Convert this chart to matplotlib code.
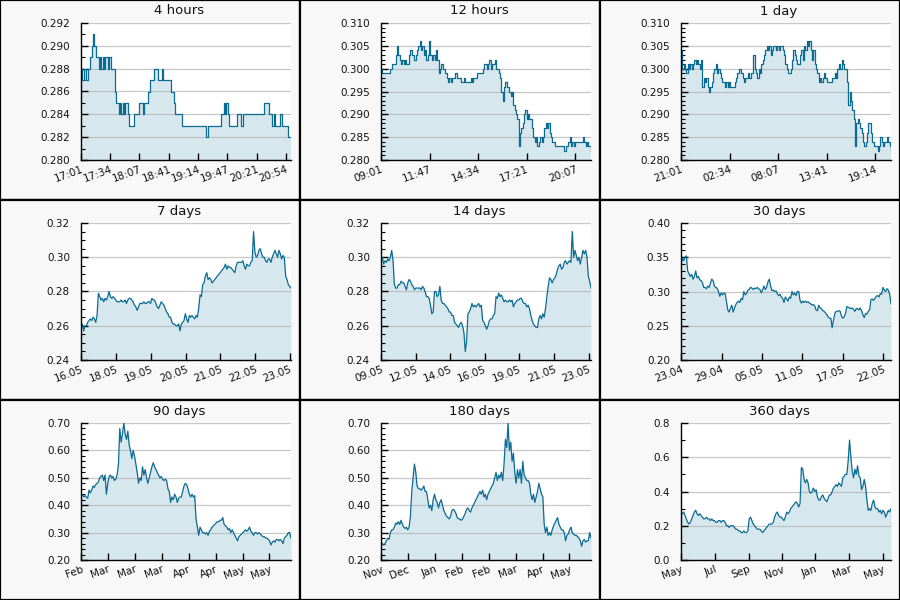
import numpy as np
import matplotlib
matplotlib.use("Agg")
import matplotlib.pyplot as plt
from matplotlib.patches import Rectangle
from matplotlib.ticker import MultipleLocator, AutoMinorLocator, FormatStrFormatter

# panel titles
titles = ["4 hours", "12 hours", "1 day", "7 days", "14 days", "30 days",
          "90 days", "180 days", "360 days"]

# price readings, evenly spaced over each window
prices_4h = [
    0.288, 0.287, 0.288, 0.288, 0.287, 0.288, 0.288, 0.289, 0.290, 0.291,
    0.290, 0.289, 0.289, 0.288, 0.289, 0.288, 0.289, 0.288, 0.289, 0.289,
    0.288, 0.289, 0.288, 0.288, 0.288, 0.286, 0.285, 0.285, 0.284, 0.285,
    0.284, 0.285, 0.284, 0.285, 0.285, 0.284, 0.283, 0.283, 0.283, 0.284,
    0.284, 0.284, 0.284, 0.285, 0.285, 0.285, 0.284, 0.285, 0.285, 0.285,
    0.286, 0.287, 0.287, 0.287, 0.288, 0.288, 0.288, 0.287, 0.287, 0.287,
    0.288, 0.287, 0.287, 0.287, 0.287, 0.287, 0.287, 0.286, 0.286, 0.285,
    0.284, 0.284, 0.284, 0.284, 0.284, 0.283, 0.283, 0.283, 0.283, 0.283,
    0.283, 0.283, 0.283, 0.283, 0.283, 0.283, 0.283, 0.283, 0.283, 0.283,
    0.283, 0.283, 0.283, 0.282, 0.283, 0.283, 0.283, 0.283, 0.283, 0.283,
    0.283, 0.283, 0.283, 0.283, 0.284, 0.284, 0.285, 0.284, 0.285, 0.284,
    0.283, 0.283, 0.283, 0.283, 0.283, 0.283, 0.284, 0.284, 0.284, 0.283,
    0.284, 0.284, 0.284, 0.284, 0.284, 0.284, 0.284, 0.284, 0.284, 0.284,
    0.284, 0.284, 0.284, 0.284, 0.284, 0.284, 0.285, 0.285, 0.285, 0.285,
    0.284, 0.284, 0.283, 0.284, 0.283, 0.283, 0.283, 0.283, 0.284, 0.283,
    0.283, 0.283, 0.283, 0.283, 0.282, 0.282, 0.282,
]
prices_12h = [
    0.300, 0.299, 0.299, 0.299, 0.299, 0.299, 0.299, 0.300, 0.301, 0.301,
    0.301, 0.303, 0.305, 0.303, 0.302, 0.301, 0.302, 0.301, 0.302, 0.301,
    0.301, 0.303, 0.304, 0.303, 0.303, 0.302, 0.303, 0.304, 0.305, 0.306,
    0.304, 0.305, 0.303, 0.304, 0.302, 0.303, 0.306, 0.303, 0.302, 0.303,
    0.302, 0.304, 0.302, 0.299, 0.300, 0.301, 0.300, 0.300, 0.299, 0.298,
    0.297, 0.298, 0.297, 0.298, 0.298, 0.299, 0.299, 0.298, 0.298, 0.298,
    0.297, 0.297, 0.298, 0.297, 0.297, 0.297, 0.297, 0.298, 0.297, 0.298,
    0.298, 0.298, 0.299, 0.299, 0.299, 0.299, 0.300, 0.301, 0.301, 0.300,
    0.301, 0.302, 0.300, 0.301, 0.301, 0.302, 0.300, 0.300, 0.299, 0.298,
    0.295, 0.293, 0.296, 0.297, 0.296, 0.296, 0.295, 0.294, 0.295, 0.292,
    0.291, 0.290, 0.289, 0.283, 0.286, 0.287, 0.288, 0.290, 0.291, 0.289,
    0.290, 0.289, 0.289, 0.287, 0.285, 0.284, 0.285, 0.283, 0.284, 0.285,
    0.284, 0.285, 0.287, 0.288, 0.287, 0.288, 0.286, 0.285, 0.284, 0.284,
    0.283, 0.283, 0.283, 0.283, 0.283, 0.283, 0.283, 0.282, 0.283, 0.283,
    0.284, 0.285, 0.283, 0.284, 0.283, 0.284, 0.284, 0.284, 0.284, 0.284,
    0.284, 0.285, 0.284, 0.283, 0.284, 0.283, 0.283, 0.282,
]
prices_1d = [
    0.304, 0.300, 0.301, 0.300, 0.299, 0.301, 0.300, 0.301, 0.300, 0.301,
    0.302, 0.301, 0.302, 0.301, 0.300, 0.302, 0.296, 0.298, 0.297, 0.298,
    0.296, 0.295, 0.296, 0.297, 0.299, 0.300, 0.301, 0.299, 0.300, 0.299,
    0.298, 0.297, 0.297, 0.296, 0.297, 0.296, 0.297, 0.296, 0.296, 0.296,
    0.297, 0.298, 0.299, 0.300, 0.300, 0.299, 0.298, 0.297, 0.298, 0.298,
    0.299, 0.298, 0.299, 0.299, 0.303, 0.300, 0.299, 0.298, 0.300, 0.299,
    0.301, 0.302, 0.303, 0.304, 0.305, 0.304, 0.305, 0.303, 0.304, 0.305,
    0.305, 0.304, 0.305, 0.304, 0.305, 0.305, 0.304, 0.303, 0.301, 0.300,
    0.299, 0.299, 0.300, 0.302, 0.304, 0.303, 0.302, 0.301, 0.301, 0.303,
    0.304, 0.302, 0.305, 0.304, 0.306, 0.305, 0.306, 0.304, 0.302, 0.304,
    0.301, 0.300, 0.299, 0.297, 0.298, 0.297, 0.298, 0.299, 0.298, 0.297,
    0.297, 0.297, 0.297, 0.298, 0.298, 0.299, 0.298, 0.300, 0.301, 0.300,
    0.302, 0.301, 0.300, 0.300, 0.297, 0.292, 0.295, 0.293, 0.291, 0.289,
    0.283, 0.288, 0.289, 0.288, 0.287, 0.286, 0.284, 0.283, 0.284, 0.286,
    0.288, 0.288, 0.286, 0.284, 0.283, 0.283, 0.283, 0.282, 0.283, 0.285,
    0.284, 0.283, 0.284, 0.284, 0.285, 0.284, 0.283, 0.282,
]
prices_7d = [
    0.259, 0.261, 0.257, 0.260, 0.260, 0.262, 0.263, 0.264, 0.263, 0.265,
    0.264, 0.262, 0.266, 0.279, 0.277, 0.275, 0.276, 0.274, 0.276, 0.275,
    0.277, 0.280, 0.277, 0.276, 0.277, 0.276, 0.275, 0.274, 0.274, 0.274,
    0.275, 0.274, 0.274, 0.275, 0.273, 0.275, 0.276, 0.276, 0.275, 0.274,
    0.272, 0.271, 0.269, 0.271, 0.273, 0.273, 0.273, 0.274, 0.273, 0.273,
    0.274, 0.274, 0.273, 0.276, 0.275, 0.275, 0.273, 0.271, 0.270, 0.272,
    0.274, 0.273, 0.272, 0.270, 0.268, 0.267, 0.265, 0.265, 0.262, 0.261,
    0.261, 0.260, 0.260, 0.261, 0.257, 0.261, 0.262, 0.263, 0.267, 0.264,
    0.262, 0.266, 0.265, 0.266, 0.265, 0.264, 0.266, 0.265, 0.270, 0.278,
    0.277, 0.284, 0.285, 0.289, 0.291, 0.287, 0.288, 0.287, 0.285, 0.286,
    0.287, 0.288, 0.289, 0.290, 0.291, 0.292, 0.293, 0.294, 0.296, 0.293,
    0.295, 0.294, 0.294, 0.293, 0.292, 0.291, 0.295, 0.297, 0.297, 0.297,
    0.297, 0.298, 0.295, 0.293, 0.296, 0.295, 0.295, 0.297, 0.298, 0.315,
    0.303, 0.300, 0.301, 0.304, 0.305, 0.302, 0.300, 0.300, 0.298, 0.297,
    0.299, 0.299, 0.297, 0.300, 0.302, 0.304, 0.302, 0.300, 0.304, 0.302,
    0.299, 0.301, 0.300, 0.289, 0.287, 0.284, 0.283, 0.282,
]
prices_14d = [
    0.297, 0.300, 0.296, 0.298, 0.297, 0.299, 0.298, 0.300, 0.304, 0.298,
    0.284, 0.282, 0.282, 0.284, 0.284, 0.286, 0.285, 0.285, 0.283, 0.281,
    0.285, 0.287, 0.286, 0.284, 0.283, 0.281, 0.282, 0.282, 0.282, 0.282,
    0.281, 0.283, 0.282, 0.280, 0.277, 0.277, 0.276, 0.272, 0.267, 0.268,
    0.280, 0.280, 0.277, 0.278, 0.283, 0.275, 0.273, 0.273, 0.272, 0.271,
    0.270, 0.268, 0.268, 0.266, 0.266, 0.262, 0.261, 0.260, 0.259, 0.261,
    0.262, 0.260, 0.256, 0.245, 0.251, 0.267, 0.268, 0.270, 0.273, 0.271,
    0.272, 0.271, 0.272, 0.273, 0.271, 0.272, 0.263, 0.262, 0.260, 0.258,
    0.260, 0.263, 0.264, 0.264, 0.266, 0.267, 0.277, 0.276, 0.279, 0.277,
    0.278, 0.276, 0.274, 0.275, 0.274, 0.274, 0.275, 0.274, 0.275, 0.271,
    0.273, 0.274, 0.275, 0.275, 0.276, 0.276, 0.274, 0.273, 0.273, 0.271,
    0.272, 0.270, 0.266, 0.263, 0.261, 0.260, 0.259, 0.259, 0.264, 0.266,
    0.264, 0.267, 0.265, 0.270, 0.277, 0.283, 0.288, 0.287, 0.285, 0.287,
    0.288, 0.290, 0.293, 0.295, 0.296, 0.293, 0.294, 0.297, 0.298, 0.296,
    0.297, 0.298, 0.297, 0.315, 0.300, 0.304, 0.301, 0.298, 0.300, 0.296,
    0.300, 0.304, 0.302, 0.304, 0.300, 0.289, 0.286, 0.282,
]
prices_30d = [
    0.340, 0.348, 0.345, 0.350, 0.352, 0.330, 0.326, 0.322, 0.325, 0.318,
    0.322, 0.330, 0.320, 0.322, 0.317, 0.316, 0.313, 0.306, 0.306, 0.304,
    0.308, 0.306, 0.312, 0.318, 0.316, 0.308, 0.306, 0.305, 0.300, 0.293,
    0.298, 0.295, 0.298, 0.297, 0.285, 0.273, 0.270, 0.276, 0.280, 0.270,
    0.276, 0.281, 0.284, 0.286, 0.284, 0.290, 0.288, 0.300, 0.295, 0.297,
    0.302, 0.303, 0.306, 0.305, 0.303, 0.305, 0.304, 0.306, 0.304, 0.303,
    0.298, 0.302, 0.308, 0.303, 0.306, 0.314, 0.318, 0.308, 0.301, 0.302,
    0.300, 0.301, 0.297, 0.294, 0.296, 0.292, 0.290, 0.284, 0.292, 0.289,
    0.286, 0.292, 0.290, 0.300, 0.295, 0.298, 0.294, 0.300, 0.300, 0.287,
    0.283, 0.286, 0.284, 0.286, 0.284, 0.285, 0.283, 0.282, 0.280, 0.281,
    0.279, 0.273, 0.272, 0.280, 0.276, 0.275, 0.272, 0.271, 0.269, 0.266,
    0.263, 0.261, 0.261, 0.247, 0.258, 0.268, 0.271, 0.271, 0.272, 0.271,
    0.264, 0.261, 0.263, 0.268, 0.278, 0.277, 0.276, 0.275, 0.276, 0.274,
    0.271, 0.275, 0.275, 0.273, 0.276, 0.272, 0.266, 0.262, 0.268, 0.267,
    0.271, 0.273, 0.288, 0.289, 0.287, 0.290, 0.293, 0.294, 0.292, 0.297,
    0.296, 0.306, 0.302, 0.300, 0.304, 0.302, 0.296, 0.282,
]
prices_90d = [
    0.43, 0.44, 0.43, 0.435, 0.43, 0.425, 0.455, 0.445, 0.455, 0.47,
    0.465, 0.475, 0.48, 0.485, 0.50, 0.505, 0.51, 0.49, 0.51, 0.44,
    0.48, 0.505, 0.51, 0.50, 0.505, 0.49, 0.495, 0.51, 0.55, 0.68,
    0.63, 0.66, 0.70, 0.66, 0.64, 0.67, 0.62, 0.60, 0.57, 0.60,
    0.58, 0.55, 0.52, 0.48, 0.50, 0.49, 0.54, 0.51, 0.53, 0.50,
    0.48, 0.50, 0.52, 0.54, 0.555, 0.54, 0.53, 0.52, 0.51, 0.50,
    0.505, 0.495, 0.49, 0.495, 0.49, 0.46, 0.45, 0.41, 0.43, 0.42,
    0.44, 0.43, 0.41, 0.425, 0.43, 0.43, 0.45, 0.47, 0.48, 0.475,
    0.46, 0.44, 0.43, 0.44, 0.43, 0.435, 0.35, 0.32, 0.29, 0.32,
    0.31, 0.30, 0.30, 0.295, 0.30, 0.29, 0.305, 0.31, 0.32, 0.325,
    0.33, 0.335, 0.34, 0.34, 0.345, 0.345, 0.355, 0.33, 0.325, 0.32,
    0.31, 0.315, 0.30, 0.31, 0.30, 0.29, 0.28, 0.27, 0.285, 0.29,
    0.295, 0.30, 0.305, 0.31, 0.305, 0.31, 0.32, 0.305, 0.30, 0.29,
    0.30, 0.30, 0.295, 0.30, 0.295, 0.29, 0.285, 0.285, 0.28, 0.28,
    0.275, 0.27, 0.255, 0.265, 0.27, 0.265, 0.275, 0.275, 0.27, 0.275,
    0.27, 0.26, 0.28, 0.285, 0.29, 0.30, 0.30, 0.28,
]
prices_180d = [
    0.27, 0.26, 0.255, 0.26, 0.27, 0.28, 0.275, 0.30, 0.31, 0.31,
    0.32, 0.335, 0.33, 0.34, 0.33, 0.345, 0.33, 0.32, 0.315, 0.32,
    0.31, 0.32, 0.36, 0.45, 0.50, 0.55, 0.52, 0.47, 0.46, 0.46,
    0.455, 0.46, 0.47, 0.45, 0.45, 0.42, 0.39, 0.40, 0.38, 0.42,
    0.44, 0.42, 0.41, 0.39, 0.41, 0.42, 0.40, 0.38, 0.37, 0.36,
    0.355, 0.35, 0.36, 0.38, 0.385, 0.38, 0.37, 0.355, 0.35, 0.35,
    0.345, 0.35, 0.36, 0.37, 0.385, 0.39, 0.38, 0.375, 0.39, 0.40,
    0.41, 0.42, 0.43, 0.44, 0.45, 0.44, 0.455, 0.43, 0.44, 0.42,
    0.44, 0.45, 0.46, 0.47, 0.48, 0.50, 0.52, 0.49, 0.51, 0.50,
    0.52, 0.49, 0.55, 0.64, 0.61, 0.70, 0.60, 0.63, 0.56, 0.59,
    0.52, 0.48, 0.53, 0.50, 0.53, 0.48, 0.56, 0.51, 0.50, 0.49,
    0.49, 0.48, 0.44, 0.42, 0.44, 0.41, 0.43, 0.45, 0.48, 0.46,
    0.44, 0.43, 0.33, 0.30, 0.32, 0.29, 0.30, 0.29, 0.31, 0.325,
    0.335, 0.345, 0.355, 0.33, 0.32, 0.31, 0.31, 0.30, 0.27, 0.29,
    0.295, 0.31, 0.32, 0.30, 0.295, 0.29, 0.29, 0.285, 0.28, 0.27,
    0.25, 0.27, 0.275, 0.265, 0.27, 0.27, 0.30, 0.28,
]
prices_360d = [
    0.28, 0.27, 0.28, 0.26, 0.24, 0.22, 0.21, 0.22, 0.24, 0.26,
    0.28, 0.29, 0.27, 0.26, 0.27, 0.26, 0.25, 0.24, 0.24, 0.25,
    0.24, 0.24, 0.23, 0.24, 0.23, 0.23, 0.22, 0.22, 0.23, 0.23,
    0.22, 0.23, 0.23, 0.22, 0.20, 0.20, 0.19, 0.20, 0.20, 0.20,
    0.19, 0.18, 0.18, 0.17, 0.17, 0.16, 0.16, 0.17, 0.16, 0.16,
    0.17, 0.24, 0.25, 0.23, 0.21, 0.20, 0.19, 0.18, 0.18, 0.18,
    0.17, 0.16, 0.17, 0.18, 0.19, 0.20, 0.21, 0.21, 0.21, 0.22,
    0.25, 0.27, 0.28, 0.26, 0.25, 0.25, 0.24, 0.23, 0.25, 0.28,
    0.27, 0.28, 0.30, 0.31, 0.32, 0.33, 0.34, 0.33, 0.31, 0.33,
    0.54, 0.53, 0.47, 0.45, 0.47, 0.45, 0.40, 0.39, 0.40, 0.42,
    0.40, 0.41, 0.37, 0.35, 0.35, 0.37, 0.38, 0.36, 0.35, 0.34,
    0.36, 0.38, 0.38, 0.40, 0.42, 0.43, 0.44, 0.43, 0.45, 0.44,
    0.43, 0.48, 0.49, 0.50, 0.50, 0.58, 0.70, 0.60, 0.52, 0.48,
    0.53, 0.50, 0.55, 0.49, 0.48, 0.41, 0.43, 0.47, 0.43, 0.35,
    0.29, 0.30, 0.29, 0.33, 0.35, 0.31, 0.30, 0.30, 0.28, 0.29,
    0.27, 0.29, 0.28, 0.25, 0.27, 0.29, 0.28, 0.30,
]

series = [prices_4h, prices_12h, prices_1d, prices_7d, prices_14d,
          prices_30d, prices_90d, prices_180d, prices_360d]

# window lengths (minutes, minutes, hours, then days)
spans = [237, 717, 24, 6.0, 14, 30, 90, 180, 360]

tick_pos = [
    [0, 33, 66, 99.5, 132.5, 165, 198.5, 231.5],
    [0, 166, 332, 498, 664],
    [0, 5.55, 11.1, 16.65, 22.2],
    [0, 1, 2, 3, 3.98, 4.98, 5.97],
    [0, 2.33, 4.59, 6.9, 9.23, 11.54, 13.84],
    [0, 5.8, 11.55, 17.35, 23.15, 28.86],
    [0, 11.4, 23.1, 34.7, 46.2, 57.8, 69.3, 80.7],
    [0, 22.8, 46.2, 69.3, 92.4, 115.5, 138.6, 161.4],
    [0, 58.2, 115.8, 173.4, 230.5, 288.7, 346.3],
]
tick_labels = [
    ["17:01", "17:34", "18:07", "18:41", "19:14", "19:47", "20:21", "20:54"],
    ["09:01", "11:47", "14:34", "17:21", "20:07"],
    ["21:01", "02:34", "08:07", "13:41", "19:14"],
    ["16.05", "18.05", "19.05", "20.05", "21.05", "22.05", "23.05"],
    ["09.05", "12.05", "14.05", "16.05", "19.05", "21.05", "23.05"],
    ["23.04", "29.04", "05.05", "11.05", "17.05", "22.05"],
    ["Feb", "Mar", "Mar", "Mar", "Apr", "Apr", "May", "May"],
    ["Nov", "Dec", "Jan", "Feb", "Feb", "Mar", "Apr", "May"],
    ["May", "Jul", "Sep", "Nov", "Jan", "Mar", "May"],
]

ylims = [(0.280, 0.292), (0.280, 0.310), (0.280, 0.310), (0.24, 0.32),
         (0.24, 0.32), (0.20, 0.40), (0.20, 0.70), (0.20, 0.70), (0.0, 0.8)]
ysteps = [0.002, 0.005, 0.005, 0.02, 0.02, 0.05, 0.1, 0.1, 0.2]
yminor = [2, 5, 5, 4, 4, 5, 5, 5, 2]
yfmt = ["%.3f", "%.3f", "%.3f", "%.2f", "%.2f", "%.2f", "%.2f", "%.2f", "%.1f"]

LINE = "#0a6b93"
FILL = "#d7e7ee"
W, H = 900, 600

fig = plt.figure(figsize=(9, 6), dpi=100)
fig.patch.set_facecolor("white")

for i in range(9):
    r, c = divmod(i, 3)
    # cell background + border
    fig.add_artist(Rectangle((c / 3, 1 - (r + 1) / 3), 1 / 3, 1 / 3,
                             transform=fig.transFigure, facecolor="#f8f8f8",
                             edgecolor="black", lw=1.6, zorder=0))
    ax = fig.add_axes([(c * 300 + 81) / W, 1 - (r * 200 + 160) / H,
                       210 / W, 137 / H])
    ax.set_facecolor("white")

    vals = np.array(series[i])
    x = np.linspace(0, spans[i], len(vals))
    lo, hi = ylims[i]
    if i < 3:
        # intraday windows: stepped ticks
        ax.fill_between(x, vals, lo, step="post", color=FILL, lw=0, zorder=1)
        ax.step(x, vals, where="post", color=LINE, lw=0.9, zorder=3)
    else:
        ax.fill_between(x, vals, lo, color=FILL, lw=0, zorder=1)
        ax.plot(x, vals, color=LINE, lw=0.9, zorder=3)

    ax.set_xlim(0, spans[i])
    ax.set_ylim(lo, hi)
    ax.yaxis.set_major_locator(MultipleLocator(ysteps[i]))
    ax.yaxis.set_minor_locator(AutoMinorLocator(yminor[i]))
    ax.yaxis.set_major_formatter(FormatStrFormatter(yfmt[i]))
    ax.grid(axis="y", which="major", color="#b0b0b0", lw=0.9, alpha=0.7, zorder=2)
    ax.set_axisbelow(False)

    ax.set_xticks(tick_pos[i])
    ax.set_xticklabels(tick_labels[i], rotation=20, ha="right",
                       rotation_mode="anchor")

    for s in ["top", "right"]:
        ax.spines[s].set_visible(False)
    for s in ["left", "bottom"]:
        ax.spines[s].set_color("black")
        ax.spines[s].set_linewidth(1.0)
        ax.spines[s].set_zorder(4)

    ax.tick_params(axis="y", which="major", direction="in", length=5,
                   width=1, labelsize=7.5, pad=8, colors="black",
                   labelcolor="#111111")
    ax.tick_params(axis="y", which="minor", direction="in", length=3, width=0.8)
    ax.tick_params(axis="x", which="major", direction="in", length=5,
                   width=1, labelsize=7.5, pad=3, labelcolor="#111111")

    fig.text((c * 300 + 179) / W, 1 - (r * 200 + 11) / H, titles[i],
             ha="center", va="center", fontsize=9.5, color="#111111")

fig.savefig("out.png", dpi=100)
